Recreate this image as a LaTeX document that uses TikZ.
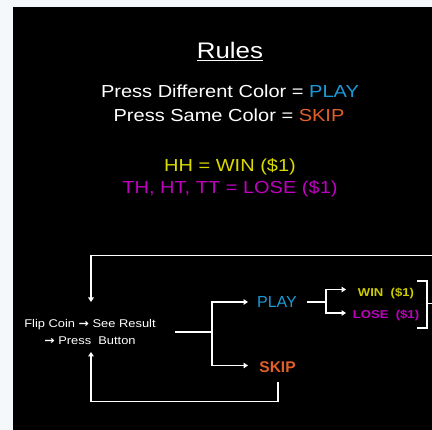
\documentclass[tikz,border=0pt]{standalone}
\usepackage{fontspec}
\setmainfont{Liberation Sans}[FakeStretch=1.15]
\newfontfamily\plainsans{Liberation Sans}
\newfontfamily\arrowfont{DejaVu Sans}[FakeStretch=1.1]
\usetikzlibrary{arrows.meta}
\definecolor{bgpage}{HTML}{F4F8FB}
\definecolor{playblue}{HTML}{1A9BD7}
\definecolor{skiporange}{HTML}{E35F2A}
\definecolor{winyellow}{HTML}{DADA00}
\definecolor{losemag}{HTML}{C000C0}
\definecolor{winyellowb}{HTML}{CCCC00}
\newcommand{\rarr}{{\arrowfont\bfseries →}}
\tikzset{
  txt/.style={inner sep=0pt, anchor=base, text=white},
  conn/.style={draw=white, line width=1.4pt, line join=miter},
  arr/.style={conn, -{Triangle[width=5.5pt,length=4.5pt]}},
}
\begin{document}
\begin{tikzpicture}[x=1pt,y=-1pt]
\useasboundingbox (0,0) rectangle (432,430);
\fill[bgpage] (0,0) rectangle (432,430);
\fill[black] (13,7) rectangle (432,430);
\begin{scope}
\clip (13,7) rectangle (432,430);
% title and rules
\node[txt, font=\fontsize{22.5}{26}\selectfont] (title) at (230,59) {\underline{Rules}};
\node[txt, font=\fontsize{17.4}{20}\selectfont] (r1) at (230,98) {Press Different Color = \textcolor{playblue}{PLAY}};
\node[txt, font=\fontsize{17.4}{20}\selectfont] (r2) at (229,122) {Press Same Color = \textcolor{skiporange}{SKIP}};
\node[txt, text=winyellow, font=\fontsize{17.4}{20}\selectfont] (r3) at (230,172) {HH = WIN (\$1)};
\node[txt, text=losemag, font=\fontsize{17.4}{20}\selectfont] (r4) at (230,194) {TH, HT, TT = LOSE (\$1)};
% flow nodes
\node[txt, font=\fontsize{11.2}{13}\selectfont] (flip1) at (90,328) {Flip Coin \rarr{} See Result};
\node[txt, font=\fontsize{11.2}{13}\selectfont] (flip2) at (90,345) {\rarr{} Press\ \ Button};
\node[txt, text=playblue, font=\plainsans\fontsize{16}{19}\selectfont] (play) at (277,308) {PLAY};
\node[txt, text=skiporange, font=\plainsans\bfseries\fontsize{15.5}{19}\selectfont] (skip) at (277.5,373) {SKIP};
\node[txt, text=winyellowb, font=\bfseries\fontsize{11.4}{14}\selectfont] (win) at (386,297) {WIN\ \ (\$1)};
\node[txt, text=losemag, font=\bfseries\fontsize{11.4}{14}\selectfont] (lose) at (386,319) {LOSE\ \ (\$1)};
% coordinates
\coordinate (fout) at (175,332);
\coordinate (split) at (212,332);
\coordinate (playin) at (248,302);
\coordinate (skipin) at (248,365.5);
\coordinate (pout) at (307,302);
\coordinate (psplit) at (326,302);
\coordinate (winin) at (346,289.5);
\coordinate (losein) at (346,313);
\coordinate (topin) at (91,302);
\coordinate (botin) at (91,352);
\coordinate (skipout) at (278,382);
\coordinate (brtop) at (417,281);
\coordinate (brbot) at (417,328);
\coordinate (brmid) at (427,303.5);
% connectors
\draw[conn] (fout) -- (split);
\draw[arr] (split) |- (playin);
\draw[arr] (split) |- (skipin);
\draw[conn] (pout) -- (psplit);
\draw[arr] (psplit) |- (winin);
\draw[arr] (psplit) |- (losein);
\draw[conn] (brtop) -| (brmid) |- (brbot);
\draw[arr] (brmid) -- (445,303.5) |- (91,255.5) -- (topin);
\draw[arr] (skipout) |- (91,401.5) -- (botin);
\end{scope}
\end{tikzpicture}
\end{document}
